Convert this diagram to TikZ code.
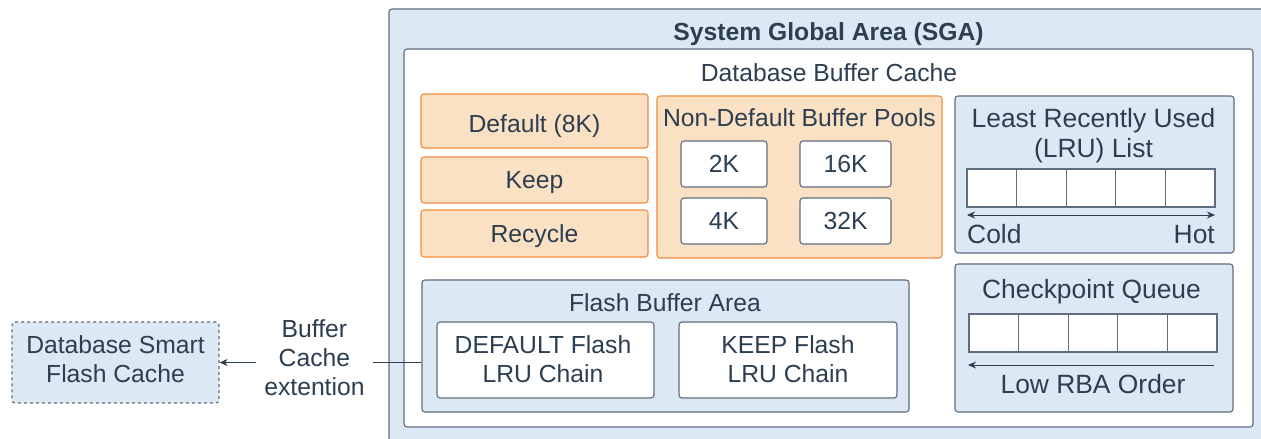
\documentclass[tikz,border=0pt]{standalone}
\usepackage{fontspec}
\setmainfont{Liberation Sans}
\usetikzlibrary{arrows.meta}
\definecolor{textc}{HTML}{2C3E50}
\definecolor{bluef}{HTML}{DCE8F4}
\definecolor{blued}{HTML}{5D6D7E}
\definecolor{orf}{HTML}{FBE1C4}
\definecolor{ord}{HTML}{F28C3E}
\newcommand\myfs{\fontsize{24.7}{28.5}\selectfont}
\newcommand\mybigfs{\fontsize{26.4}{30}\selectfont}
\begin{document}
\begin{tikzpicture}[x=1pt,y=-1pt,
  base/.style={line width=1.1pt, inner sep=0pt, text=textc, font=\myfs, align=center, rounded corners=3pt},
  bluebox/.style={base, draw=blued, fill=bluef},
  whitebox/.style={base, draw=blued, fill=white},
  orbox/.style={base, draw=ord, fill=orf},
  oneline/.style={text height=17.7pt, text depth=0pt},
  bigline/.style={font=\mybigfs, text height=18.9pt, text depth=0pt},
  cell/.style={draw=blued, fill=white, line width=1.1pt, minimum width=49.6pt, minimum height=38pt, inner sep=0pt},
  lbl/.style={text=textc, font=\myfs, align=center, inner sep=0pt},
  tip/.style={-{Stealth[length=8pt,width=7pt,inset=2.5pt]}},
  conn/.style={draw=textc, line width=1pt},
]
\useasboundingbox (0,0) rectangle (1261,439);
\clip (0,0) rectangle (1261,439);

% System Global Area
\node[bluebox, minimum width=886pt, minimum height=446pt] (sga) at (832,232) {};
\node[lbl, oneline, font=\myfs\bfseries] (sgat) at (828.5,32) {System Global Area (SGA)};

% Database Buffer Cache
\node[whitebox, minimum width=849pt, minimum height=378pt] (dbc) at (828.5,238) {};
\node[lbl, oneline] (dbct) at (829,73) {Database Buffer Cache};

% Default pools
\node[orbox, text height=23.7pt, text depth=0pt, minimum width=227pt, minimum height=54pt] (def) at (534.5,121) {Default (8K)};
\node[orbox, oneline, minimum width=227pt, minimum height=46pt] (keep) at (534.5,180) {Keep};
\node[orbox, oneline, minimum width=227pt, minimum height=47pt] (rec) at (534.5,233.5) {Recycle};

% Non-default pools
\node[orbox, minimum width=285pt, minimum height=162pt] (ndp) at (799.5,177) {};
\node[lbl, oneline] (ndpt) at (799.5,118) {Non-Default Buffer Pools};
\node[whitebox, oneline, minimum width=86pt, minimum height=46pt] (k2) at (724,164) {2K};
\node[whitebox, oneline, minimum width=91pt, minimum height=46pt] (k16) at (845.5,164) {16K};
\node[whitebox, oneline, minimum width=86pt, minimum height=46pt] (k4) at (724,221) {4K};
\node[whitebox, oneline, minimum width=91pt, minimum height=46pt] (k32) at (845.5,221) {32K};

% LRU list
\node[bluebox, minimum width=279pt, minimum height=157pt] (lru) at (1094.5,174.5) {};
\node[lbl, font=\mybigfs] (lrut) at (1093.5,135.6) {Least Recently Used\\(LRU) List};
\foreach \i in {1,...,5} {
  \node[cell] (l\i) at ({967+24.8+49.6*(\i-1)},188) {};
}
\coordinate (la) at (967,215);
\coordinate (lb) at (1215,215);
\draw[conn, {Stealth[length=8pt,width=7pt,inset=2.5pt]}-{Stealth[length=8pt,width=7pt,inset=2.5pt]}] (la) -- (lb);
\node[lbl, bigline, anchor=west] (cold) at (967,234) {Cold};
\node[lbl, bigline, anchor=east] (hot) at (1215,234) {Hot};

% Checkpoint queue
\node[bluebox, minimum width=278pt, minimum height=148pt] (ckq) at (1094,338) {};
\node[lbl, bigline] (ckqt) at (1091.5,289) {Checkpoint Queue};
\foreach \i in {1,...,5} {
  \node[cell] (c\i) at ({969+24.8+49.6*(\i-1)},333) {};
}
\coordinate (ca) at (1214,365);
\coordinate (cb) at (968,365);
\draw[conn, tip] (ca) -- (cb);
\node[lbl, bigline] (rba) at (1093,384) {Low RBA Order};

% Flash buffer area
\node[bluebox, minimum width=487pt, minimum height=132pt] (fba) at (665.5,346) {};
\node[lbl, oneline] (fbat) at (665,303) {Flash Buffer Area};
\node[whitebox, minimum width=217pt, minimum height=76pt] (dfl) at (545.5,360) {};
\node[lbl] (dflt) at (543,359) {DEFAULT Flash\\LRU Chain};
\node[whitebox, minimum width=218pt, minimum height=76pt] (kfl) at (788,360) {};
\node[lbl] (kflt) at (788,359) {KEEP Flash\\LRU Chain};

% Database Smart Flash Cache
\node[bluebox, dash pattern=on 3pt off 3pt, minimum width=207pt, minimum height=81pt] (dsfc) at (115.5,362.5) {};
\node[lbl] (dsfct) at (115.5,359) {Database Smart\\Flash Cache};

% Connector
\draw[conn, tip] (fba.west |- dsfc.east) -- (dsfc.east)
  node[lbl, fill=white, pos=0.53, yshift=4.7pt, inner xsep=8pt, inner ysep=2pt, font=\fontsize{24.7}{29}\selectfont] (ext) {Buffer\\Cache\\extention};
\end{tikzpicture}
\end{document}
